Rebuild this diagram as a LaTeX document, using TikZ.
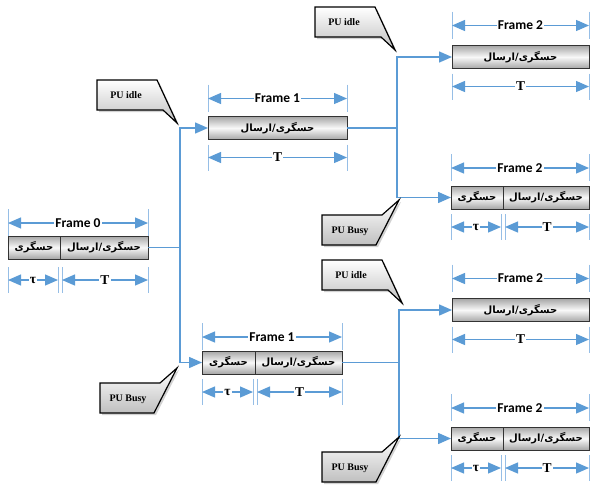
\documentclass[tikz,border=0pt]{standalone}
\usepackage{fontspec}
\setmainfont{Liberation Serif}
\setsansfont{Carlito}
\newfontfamily\persianfont[Script=Arabic]{DejaVu Sans}
\TeXXeTstate=1
\usetikzlibrary{arrows.meta,positioning,calc,shadows}
\definecolor{linkblue}{RGB}{91,155,213}
\definecolor{tickblue}{RGB}{150,190,230}
\newcommand{\fa}[1]{{\persianfont\bfseries\beginR #1\endR}}

\begin{document}
\begin{tikzpicture}[x=1pt,y=-1pt,>={Triangle[length=13pt,width=11pt]},
  slot/.style={draw=black!80,line width=0.9pt,outer sep=0pt,inner sep=0pt,minimum height=23pt,top color=gray!70,bottom color=gray!70,middle color=gray!5,font=\fontsize{10}{10}\selectfont},
  link/.style={draw=linkblue,line width=1.5pt},
  dimline/.style={draw=linkblue,line width=1.3pt,<->},
  tickline/.style={draw=tickblue,line width=0.9pt},
  framelbl/.style={fill=white,inner sep=1pt,font=\sffamily\bfseries\fontsize{13.5}{13.5}\selectfont},
  symlbl/.style={fill=white,inner sep=1pt,font=\bfseries\fontsize{13.5}{13.5}\selectfont},
  bubble/.style={draw=black,line width=1.2pt,top color=white,bottom color=gray!50,drop shadow={shadow xshift=2pt,shadow yshift=-2pt,fill=gray!70}},
  bubbletext/.style={font=\bfseries\fontsize{10}{10}\selectfont}]
\useasboundingbox (0,0) rectangle (592,488);

\node[slot,minimum width=52pt] (f0s) at (34,247.5) {\fa{حسگری}};
\node[slot,minimum width=88pt,right=0pt of f0s] (f0t) {\fa{حسگری/ارسال}};
\node[slot,minimum width=139pt] (f1a) at (277.5,128) {\fa{حسگری/ارسال}};
\node[slot,minimum width=53pt] (f1bs) at (228.5,362.5) {\fa{حسگری}};
\node[slot,minimum width=87pt,right=0pt of f1bs] (f1bt) {\fa{حسگری/ارسال}};
\node[slot,minimum width=137pt] (f2a) at (520.5,57) {\fa{حسگری/ارسال}};
\node[slot,minimum width=52pt] (f2bs) at (477,197.5) {\fa{حسگری}};
\node[slot,minimum width=86pt,right=0pt of f2bs] (f2bt) {\fa{حسگری/ارسال}};
\node[slot,minimum width=137pt] (f2c) at (520.5,310) {\fa{حسگری/ارسال}};
\node[slot,minimum width=52pt] (f2ds) at (477,438.5) {\fa{حسگری}};
\node[slot,minimum width=86pt,right=0pt of f2ds] (f2dt) {\fa{حسگری/ارسال}};

\foreach \b/\e/\n/\off in {f0s/f0t/0/13,f1a/f1a/1/18,f2a/f2a/2/20,f2bs/f2bt/2/18,f1bs/f1bt/1/14,f2c/f2c/2/20,f2ds/f2dt/2/19}{
  \coordinate (\b-fl) at ($(\b.north west)+(0,-\off)$);
  \coordinate (\b-fr) at ($(\e.north east)+(0,-\off)$);
  \draw[tickline] ($(\b-fl)+(0,-14)$) -- ($(\b-fl)+(0,13)$);
  \draw[tickline] ($(\b-fr)+(0,-14)$) -- ($(\b-fr)+(0,13)$);
  \draw[dimline] (\b-fl) -- node[framelbl] (\b-frame) {Frame \n} (\b-fr);
}
\foreach \b/\off in {f0s/21,f1bs/18,f2bs/18,f2ds/18}{
  \coordinate (\b-tl) at ($(\b.south west)+(0,\off)$);
  \coordinate (\b-tr) at ($(\b.south east)+(-2,\off)$);
  \draw[tickline] ($(\b-tl)+(0,-13)$) -- ($(\b-tl)+(0,13)$);
  \draw[tickline] ($(\b-tr)+(0,-13)$) -- ($(\b-tr)+(0,13)$);
  \draw[dimline] (\b-tl) -- node[symlbl] (\b-tau) {τ} (\b-tr);
}
\foreach \b/\off/\dx in {f0t/21/2,f1bt/18/2,f2bt/18/2,f2dt/18/2,f1a/18/0,f2a/18/0,f2c/18/0}{
  \coordinate (\b-Tl) at ($(\b.south west)+(\dx,\off)$);
  \coordinate (\b-Tr) at ($(\b.south east)+(0,\off)$);
  \draw[tickline] ($(\b-Tl)+(0,-13)$) -- ($(\b-Tl)+(0,13)$);
  \draw[tickline] ($(\b-Tr)+(0,-13)$) -- ($(\b-Tr)+(0,13)$);
  \draw[dimline] (\b-Tl) -- node[symlbl] (\b-T) {T} (\b-Tr);
}

\draw[link,->] (f0t.east) -- ++(32,0) coordinate (j0) |- (f1a.west);
\draw[link,->] (j0) |- (f1bs.west);
\draw[link,->] (f1a.east) -- ++(50,0) coordinate (j1) |- (f2a.west);
\draw[link,->] (j1) |- (f2bs.west);
\draw[link,->] (f1bt.east) -- ++(57,0) coordinate (j2) |- (f2c.west);
\draw[link,->] (j2) |- (f2ds.west);

\foreach \x/\y/\i in {97/80/1,315/7/2,322/260/3}{
  \draw[bubble] (\x,\y) -- ++(60,0) -- ++(20,43) -- ++(-14,-13) -- (\x,\y+30) -- cycle;
  \node[bubbletext] (idle\i) at (\x+29,\y+15) {PU idle};
}
\foreach \x/\y/\i in {100/383/1,322/215/2,322/452/3}{
  \draw[bubble] (\x,\y) -- ++(60,0) -- ++(17,-15) -- ++(-23,45) -- (\x,\y+30) -- cycle;
  \node[bubbletext] (busy\i) at (\x+28,\y+16) {PU Busy};
}
\end{tikzpicture}
\end{document}
